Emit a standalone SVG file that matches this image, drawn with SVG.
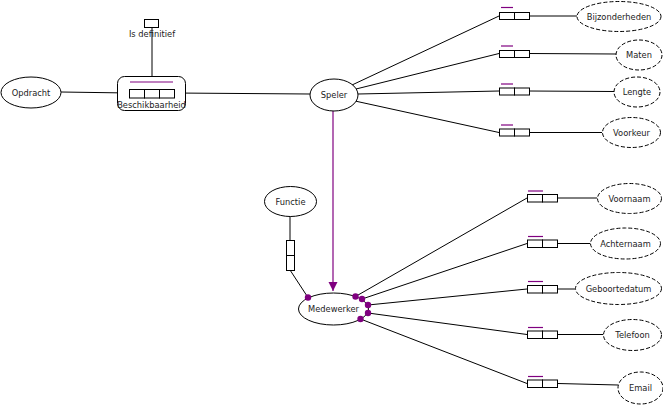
<svg xmlns="http://www.w3.org/2000/svg" width="663" height="405" viewBox="0 0 663 405">
<defs>
<style>
.l{stroke:#000;stroke-width:1;fill:none}
.e{fill:#fff;stroke:#000;stroke-width:1}
.d{fill:#fff;stroke:#000;stroke-width:1;stroke-dasharray:4 2}
.b{fill:#fff;stroke:#000;stroke-width:1}
.p{stroke:#800080;stroke-width:1.2;fill:none}
.dot{fill:#800080}
text{font-family:"DejaVu Sans",Verdana,sans-serif;font-size:8.3px;fill:#222;text-anchor:middle}
</style>
<marker id="arr" markerWidth="10" markerHeight="10" refX="9" refY="4.5" orient="auto" markerUnits="userSpaceOnUse">
<path d="M0,0 L9,4.5 L0,9 Z" fill="#800080"/>
</marker>
</defs>
<rect width="663" height="405" fill="#fff"/>
<g id="connectors">
<line class="l" x1="61" y1="92" x2="129" y2="93"/>
<line class="l" x1="174" y1="93" x2="310" y2="94"/>
<line class="l" x1="152" y1="27" x2="152" y2="89"/>
<line class="l" x1="352" y1="85" x2="499" y2="16"/>
<line class="l" x1="356" y1="89" x2="499" y2="53.5"/>
<line class="l" x1="358" y1="94" x2="499" y2="91"/>
<line class="l" x1="355" y1="101" x2="499" y2="132.5"/>
<line class="l" x1="529" y1="16" x2="577" y2="16"/>
<line class="l" x1="529" y1="53.5" x2="616" y2="54"/>
<line class="l" x1="529" y1="91" x2="614" y2="91.5"/>
<line class="l" x1="529" y1="132.5" x2="602" y2="132.5"/>
<line class="p" x1="333" y1="111" x2="333" y2="291" marker-end="url(#arr)"/>
<line class="l" x1="290" y1="216" x2="290" y2="240"/>
<line class="l" x1="290" y1="270" x2="308" y2="297.5"/>
<line class="l" x1="355.5" y1="296.5" x2="527" y2="198"/>
<line class="l" x1="362" y1="299" x2="527" y2="243.5"/>
<line class="l" x1="368" y1="305" x2="527" y2="289"/>
<line class="l" x1="368" y1="313" x2="527" y2="334.5"/>
<line class="l" x1="360.5" y1="319" x2="527" y2="383.5"/>
<line class="l" x1="558" y1="198" x2="597" y2="198"/>
<line class="l" x1="558" y1="243.5" x2="590" y2="243.5"/>
<line class="l" x1="558" y1="289" x2="575" y2="289"/>
<line class="l" x1="558" y1="334.5" x2="603" y2="334.5"/>
<line class="l" x1="558" y1="383.5" x2="618" y2="385"/>
</g>
<g id="opdracht"><ellipse class="e" cx="31" cy="92.5" rx="30" ry="15.5"/><text x="31" y="95.5">Opdracht</text></g>
<g id="isdefinitief"><rect class="b" x="144.5" y="19.5" width="14" height="8"/><text x="152" y="37">Is definitief</text></g>
<g id="beschikbaarheid">
<rect class="e" x="117.5" y="76.5" width="68" height="34" rx="7"/>
<line class="p" x1="130" y1="82" x2="173" y2="82"/>
<rect class="b" x="129.5" y="89.5" width="15" height="8.5"/>
<rect class="b" x="144.5" y="89.5" width="15" height="8.5"/>
<rect class="b" x="159.5" y="89.5" width="15" height="8.5"/>
<text x="151.5" y="107.5">Beschikbaarheid</text>
</g>
<g id="speler"><ellipse class="e" cx="334" cy="95" rx="24" ry="16"/><text x="334" y="98">Speler</text></g>
<g id="row-bijzonderheden"><line class="p" x1="501" y1="7.5" x2="513" y2="7.5"/><rect class="b" x="499.5" y="12.5" width="15" height="7"/><rect class="b" x="514.5" y="12.5" width="15" height="7"/></g>
<g id="bijzonderheden"><ellipse class="d" cx="619" cy="16.5" rx="42" ry="15"/><text x="619" y="19.5">Bijzonderheden</text></g>
<g id="row-maten"><line class="p" x1="501" y1="46" x2="513" y2="46"/><rect class="b" x="499.5" y="50.5" width="15" height="7"/><rect class="b" x="514.5" y="50.5" width="15" height="7"/></g>
<g id="maten"><ellipse class="d" cx="639" cy="55" rx="23" ry="15"/><text x="639" y="58">Maten</text></g>
<g id="row-lengte"><line class="p" x1="501" y1="84" x2="513" y2="84"/><rect class="b" x="499.5" y="88" width="15" height="7"/><rect class="b" x="514.5" y="88" width="15" height="7"/></g>
<g id="lengte"><ellipse class="d" cx="637" cy="92" rx="23" ry="15"/><text x="637" y="95">Lengte</text></g>
<g id="row-voorkeur"><line class="p" x1="501" y1="125" x2="513" y2="125"/><rect class="b" x="499.5" y="129" width="15" height="7"/><rect class="b" x="514.5" y="129" width="15" height="7"/></g>
<g id="voorkeur"><ellipse class="d" cx="631.5" cy="132.5" rx="29" ry="15"/><text x="631.5" y="135.5">Voorkeur</text></g>
<g id="functie"><ellipse class="e" cx="290.5" cy="201.5" rx="26" ry="15"/><text x="290.5" y="204.5">Functie</text></g>
<g id="row-functie"><rect class="b" x="286.5" y="240.5" width="8" height="15"/><rect class="b" x="286.5" y="255.5" width="8" height="15"/></g>
<g id="medewerker">
<ellipse class="e" cx="333.5" cy="309" rx="35" ry="16"/><text x="333.5" y="312">Medewerker</text>
<circle class="dot" cx="308" cy="297.5" r="3.2"/>
<circle class="dot" cx="355.5" cy="296.5" r="3.2"/>
<circle class="dot" cx="362" cy="299" r="3.2"/>
<circle class="dot" cx="368" cy="305" r="3.2"/>
<circle class="dot" cx="368" cy="313" r="3.2"/>
<circle class="dot" cx="360.5" cy="319" r="3.2"/>
</g>
<g id="row-voornaam"><line class="p" x1="528" y1="191" x2="543" y2="191"/><rect class="b" x="527.5" y="194.5" width="15" height="7.5"/><rect class="b" x="542.5" y="194.5" width="15" height="7.5"/></g>
<g id="voornaam"><ellipse class="d" cx="629.5" cy="198.5" rx="32" ry="15"/><text x="629.5" y="201.5">Voornaam</text></g>
<g id="row-achternaam"><line class="p" x1="528" y1="236.5" x2="543" y2="236.5"/><rect class="b" x="527.5" y="240" width="15" height="7.5"/><rect class="b" x="542.5" y="240" width="15" height="7.5"/></g>
<g id="achternaam"><ellipse class="d" cx="625.5" cy="243.5" rx="35" ry="15.5"/><text x="625.5" y="246.5">Achternaam</text></g>
<g id="row-geboortedatum"><line class="p" x1="528" y1="281.5" x2="543" y2="281.5"/><rect class="b" x="527.5" y="285.5" width="15" height="7.5"/><rect class="b" x="542.5" y="285.5" width="15" height="7.5"/></g>
<g id="geboortedatum"><ellipse class="d" cx="618.5" cy="288.5" rx="43" ry="16"/><text x="618.5" y="291.5">Geboortedatum</text></g>
<g id="row-telefoon"><line class="p" x1="528" y1="327.5" x2="543" y2="327.5"/><rect class="b" x="527.5" y="331" width="15" height="7.5"/><rect class="b" x="542.5" y="331" width="15" height="7.5"/></g>
<g id="telefoon"><ellipse class="d" cx="632.5" cy="335" rx="29" ry="15.5"/><text x="632.5" y="338">Telefoon</text></g>
<g id="row-email"><line class="p" x1="528" y1="376.5" x2="543" y2="376.5"/><rect class="b" x="527.5" y="380" width="15" height="7.5"/><rect class="b" x="542.5" y="380" width="15" height="7.5"/></g>
<g id="email"><ellipse class="d" cx="640.5" cy="388" rx="22.5" ry="16"/><text x="640.5" y="391">Email</text></g>
</svg>
